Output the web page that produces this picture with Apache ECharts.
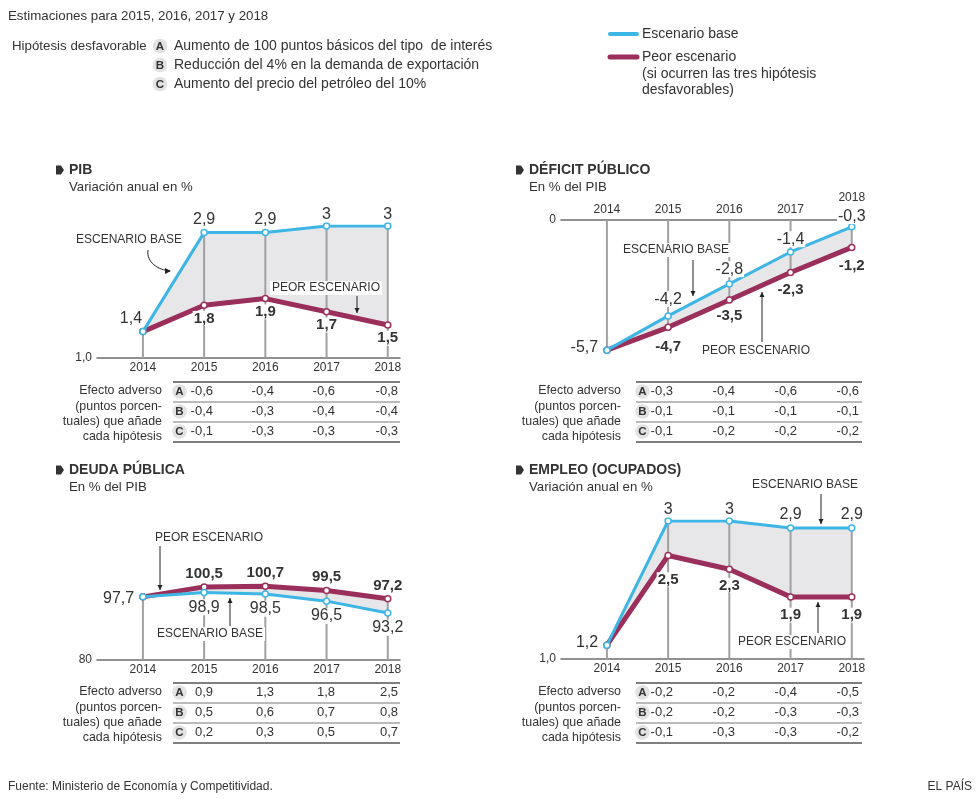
<!DOCTYPE html>
<html><head><meta charset="utf-8">
<script src="https://cdn.jsdelivr.net/npm/echarts@6/dist/echarts.min.js"></script>
<style>html,body{margin:0;padding:0;background:#fff}#c{width:980px;height:799px}</style>
</head><body><div id="c"></div>
<script>
// ---- DATA ----
const years = [2014, 2015, 2016, 2017, 2018];

const pibBase  = [1.4, 2.9, 2.9, 3, 3];
const pibWorst = [1.4, 1.8, 1.9, 1.7, 1.5];
const defBase  = [-5.7, -4.2, -2.8, -1.4, -0.3];
const defWorst = [-5.7, -4.7, -3.5, -2.3, -1.2];
const deuBase  = [97.7, 98.9, 98.5, 96.5, 93.2];
const deuWorst = [97.7, 100.5, 100.7, 99.5, 97.2];
const empBase  = [1.2, 3, 3, 2.9, 2.9];
const empWorst = [1.2, 2.5, 2.3, 1.9, 1.9];

const pibA = [-0.6, -0.4, -0.6, -0.8];
const pibB = [-0.4, -0.3, -0.4, -0.4];
const pibC = [-0.1, -0.3, -0.3, -0.3];
const defA = [-0.3, -0.4, -0.6, -0.6];
const defB = [-0.1, -0.1, -0.1, -0.1];
const defC = [-0.1, -0.2, -0.2, -0.2];
const deuA = [0.9, 1.3, 1.8, 2.5];
const deuB = [0.5, 0.6, 0.7, 0.8];
const deuC = [0.2, 0.3, 0.5, 0.7];
const empA = [-0.2, -0.2, -0.4, -0.5];
const empB = [-0.2, -0.2, -0.3, -0.3];
const empC = [-0.1, -0.3, -0.3, -0.2];

const hypotheses = ['Aumento de 100 puntos básicos del tipo  de interés',
  'Reducción del 4% en la demanda de exportación',
  'Aumento del precio del petróleo del 10%'];

// ---- STYLE ----
const BLUE = '#3db5e5', RED = '#9b2f5b', AREA = '#e7e7ea', VLINE = '#a0a0a0', TXT = '#333';
const FONT = '"Liberation Sans", Arial, Helvetica, sans-serif';
const fmt = v => String(v).replace('.', ',');

const chart = echarts.init(document.getElementById('c'));

// label placement per point: [position, distance, offsetX, offsetY] (null = no label)
const panels = [
  {key:'pib', base:pibBase, worst:pibWorst, left:97, top:226, height:132, min:1, max:3, ylab:1, ylabText:'1,0', xTop:false, down:false,
   baseLab:[['top',1,-12,0],['top',1],['top',1],['top',0],['top',0]],
   worstLab:[null,['bottom',2],['bottom',2],['bottom',2],['bottom',2]], baseBold:false, worstBold:true},
  {key:'def', base:defBase, worst:defWorst, left:561, top:220, height:137, min:-6, max:0, ylab:0, ylabText:'0', xTop:true, down:true,
   baseLab:[['left',4,0,-3],['top',5],['top',3],['top',1],['top',-1]],
   worstLab:[null,['bottom',8],['bottom',5],['bottom',6],['bottom',7]], baseBold:false, worstBold:true},
  {key:'deu', base:deuBase, worst:deuWorst, left:97, top:553, height:107, min:80, max:110, ylab:80, ylabText:'80', xTop:false, down:false,
   baseLab:[null,['bottom',3],['bottom',3],['bottom',3],['bottom',3]],
   worstLab:[['left',4,0,2,'normal'],['top',2],['top',2],['top',2],['top',2]], baseBold:false, worstBold:true},
  {key:'emp', base:empBase, worst:empWorst, left:561, top:521, height:138, min:1, max:3, ylab:1, ylabText:'1,0', xTop:false, down:false,
   baseLab:[['left',4,0,-3],['top',0],['top',0],['top',2],['top',2]],
   worstLab:[null,['bottom',13],['bottom',5],['bottom',7],['bottom',7]], baseBold:false, worstBold:true}
];

const grids = [], xAxes = [], yAxes = [], series = [];

function labelCfg(L, bold) {
  if (!L) return {show:false};
  const isBold = L[4] === 'normal' ? false : bold;
  return {show:true, color:TXT, fontFamily:FONT, fontSize: isBold ? 15 : 16, fontWeight: isBold ? 'bold' : 'normal',
    backgroundColor:'#fff', padding:[0,1], formatter: p => fmt(p.value[1]),
    position:L[0], distance:L[1], offset:[L[2]||0, L[3]||0]};
}

panels.forEach((P, gi) => {
  grids.push({left:P.left, top:P.top, width:303, height:P.height});
  xAxes.push({type:'value', gridIndex:gi, min:2013.25, max:2018.2, position: P.xTop ? 'top' : 'bottom',
    axisLine:{show:true, onZero:false, lineStyle:{color:'#6d6d6d', width:1.5}},
    axisTick:{show:false}, splitLine:{show:false},
    axisLabel:{customValues:years, color:TXT, fontFamily:FONT, fontSize:12, margin:4,
      formatter: v => (P.xTop && v === 2018) ? '2018\n ' : String(v)}});
  yAxes.push({type:'value', gridIndex:gi, min:P.min, max:P.max,
    axisLine:{show:false}, axisTick:{show:false}, splitLine:{show:false},
    axisLabel:{customValues:[P.ylab], color:TXT, fontFamily:FONT, fontSize:12, margin:5, formatter: () => P.ylabText}});

  const upper = years.map((y,i) => Math.max(P.base[i], P.worst[i]));
  const lower = years.map((y,i) => Math.min(P.base[i], P.worst[i]));

  // shaded band between the two scenarios
  series.push({type:'custom', xAxisIndex:gi, yAxisIndex:gi, z:1, silent:true, clip:false,
    data:[[years[0], lower[0]]],
    renderItem: (params, api) => {
      const pts = years.map((y,i) => api.coord([y, upper[i]]))
        .concat(years.slice().reverse().map((y,k) => api.coord([y, lower[years.length-1-k]])));
      return {type:'polygon', shape:{points:pts}, style:{fill:AREA}};
    }});
  // vertical guide lines
  series.push({type:'custom', xAxisIndex:gi, yAxisIndex:gi, z:2, silent:true, clip:false,
    data: years.map((y,i) => P.down ? [y, 0, lower[i]] : [y, upper[i], P.min]),
    renderItem: (params, api) => {
      const a = api.coord([api.value(0), api.value(1)]);
      const b = api.coord([api.value(0), api.value(2)]);
      return {type:'line', shape:{x1:a[0], y1:a[1], x2:b[0], y2:b[1]}, style:{stroke:VLINE, lineWidth:2}};
    }});
  // worst scenario
  series.push({type:'line', name:'Peor escenario', xAxisIndex:gi, yAxisIndex:gi, z:3,
    data: years.map((y,i) => ({value:[y, P.worst[i]], label: labelCfg(P.worstLab[i], P.worstBold)})),
    lineStyle:{color:RED, width:5}, symbol:'circle', symbolSize:6,
    itemStyle:{color:'#fff', borderColor:RED, borderWidth:1.5}, animation:false});
  // base scenario
  series.push({type:'line', name:'Escenario base', xAxisIndex:gi, yAxisIndex:gi, z:4,
    data: years.map((y,i) => ({value:[y, P.base[i]], label: labelCfg(P.baseLab[i], P.baseBold)})),
    lineStyle:{color:BLUE, width:3}, symbol:'circle', symbolSize:6,
    itemStyle:{color:'#fff', borderColor:BLUE, borderWidth:1.5}, animation:false});
});

// ---- GRAPHIC (titles, legend, tables, annotations) ----
const G = [];
function txt(x, y, text, o = {}) {
  G.push({type:'text', x, y, z:50, style:Object.assign({text, fill:TXT, font:`${o.weight||'normal'} ${o.size||13}px ${FONT}`,
    textAlign:o.align||'left', textVerticalAlign:'middle'}, o.bg ? {backgroundColor:'#fff', padding:[1,2]} : {})});
}
function badge(x, y, letter) {
  G.push({type:'circle', z:49, shape:{cx:x, cy:y, r:7.3}, style:{fill:'#e2e2e2'}});
  txt(x, y+0.5, letter, {weight:'bold', size:11.5, align:'center'});
}
function hline(x1, x2, y, w, c) {
  G.push({type:'line', z:49, shape:{x1, y1:y, x2, y2:y}, style:{stroke:c||'#555', lineWidth:w||1}});
}
function arrow(x, y1, y2) {
  G.push({type:'line', z:51, shape:{x1:x, y1:y1, x2:x, y2:y2}, style:{stroke:'#222', lineWidth:1}});
  const d = y2 > y1 ? -1 : 1;
  G.push({type:'polygon', z:51, shape:{points:[[x-2.5, y2+d*5], [x+2.5, y2+d*5], [x, y2]]}, style:{fill:'#222'}});
}
function bullet(x, y) {
  G.push({type:'polygon', z:50, shape:{points:[[x,y-4.5],[x+5,y-4.5],[x+8,y],[x+5,y+4.5],[x,y+4.5]]}, style:{fill:'#333'}});
}

// header
txt(8, 16, 'Estimaciones para 2015, 2016, 2017 y 2018', {size:13.3});
txt(12, 46, 'Hipótesis desfavorable', {size:13.3});
['A','B','C'].forEach((L,i) => { badge(160, 46 + i*19, L); txt(174, 46 + i*19, hypotheses[i], {size:14}); });

// legend
G.push({type:'line', z:50, shape:{x1:610, y1:34, x2:637, y2:34}, style:{stroke:BLUE, lineWidth:4, lineCap:'round'}});
txt(642, 34, 'Escenario base', {size:14});
G.push({type:'line', z:50, shape:{x1:610, y1:57, x2:637, y2:57}, style:{stroke:RED, lineWidth:5, lineCap:'round'}});
txt(642, 57, 'Peor escenario', {size:14});
txt(642, 74, '(si ocurren las tres hipótesis', {size:14});
txt(642, 90, 'desfavorables)', {size:14});

// titles
const titles = [
  [69, 170, 'PIB', 'Variación anual en %'],
  [529, 170, 'DÉFICIT PÚBLICO', 'En % del PIB'],
  [69, 470, 'DEUDA PÚBLICA', 'En % del PIB'],
  [529, 470, 'EMPLEO (OCUPADOS)', 'Variación anual en %']
];
titles.forEach(([x,y,t,s]) => { bullet(x-13, y); txt(x, y, t, {weight:'bold', size:14}); txt(x, y+17, s, {size:13.2}); });

// tables
function table(x0, x1, top, textRight, colRight, rows) {
  const sideLines = ['Efecto adverso', '(puntos porcen-', 'tuales) que añade', 'cada hipótesis'];
  sideLines.forEach((s,i) => txt(textRight, top + 9 + i*15.2, s, {align:'right', size:12.4}));
  hline(x0, x1, top, 1.3, '#555');
  rows.forEach((r, ri) => {
    const ly = top + 20*(ri+1);
    hline(x0, x1, ly, ri === 2 ? 1.3 : 1, ri === 2 ? '#555' : '#777');
    const cy = top + 20*ri + 9.5;
    badge(x0 + 6.5, cy, ['A','B','C'][ri]);
    r.forEach((v, ci) => txt(colRight[ci], cy, fmt(v), {align:'right', size:13}));
  });
}
table(173, 400, 382, 162, [213, 274, 335, 398], [pibA, pibB, pibC]);
table(636, 862, 382, 621, [673, 735, 797, 859], [defA, defB, defC]);
table(173, 400, 683, 162, [213, 274, 335, 398], [deuA, deuB, deuC]);
table(636, 862, 683, 621, [673, 735, 797, 859], [empA, empB, empC]);

// annotations
const A = {size:12, bg:true};
// PIB
txt(76, 240, 'ESCENARIO BASE', {size:12});
G.push({type:'bezierCurve', z:51, shape:{x1:148, y1:250, cpx1:146, cpy1:262, cpx2:158, cpy2:270, x2:170, y2:271}, style:{stroke:'#222', lineWidth:1, fill:null}});
G.push({type:'polygon', z:51, shape:{points:[[171,271],[165,268],[165,274]]}, style:{fill:'#222'}});
txt(270, 288, 'PEOR ESCENARIO', A);
arrow(357, 296, 313);
// Deficit
txt(621, 250, 'ESCENARIO BASE', A);
arrow(693, 260, 296);
txt(700, 351, 'PEOR ESCENARIO', A);
arrow(762, 342, 292);
// Deuda
txt(153, 538, 'PEOR ESCENARIO', A);
arrow(160, 546, 590);
txt(155, 634, 'ESCENARIO BASE', A);
arrow(230, 626, 598);
// Empleo
txt(750, 485, 'ESCENARIO BASE', A);
arrow(821, 494, 524);
txt(736, 642, 'PEOR ESCENARIO', A);
arrow(818, 633, 602);

// footer
txt(8, 787, 'Fuente: Ministerio de Economía y Competitividad.', {size:12});
txt(972, 787, 'EL PAÍS', {size:12, align:'right'});

chart.setOption({
  animation:false,
  textStyle:{fontFamily:FONT},
  grid:grids, xAxis:xAxes, yAxis:yAxes, series, graphic:G
});
</script></body></html>
